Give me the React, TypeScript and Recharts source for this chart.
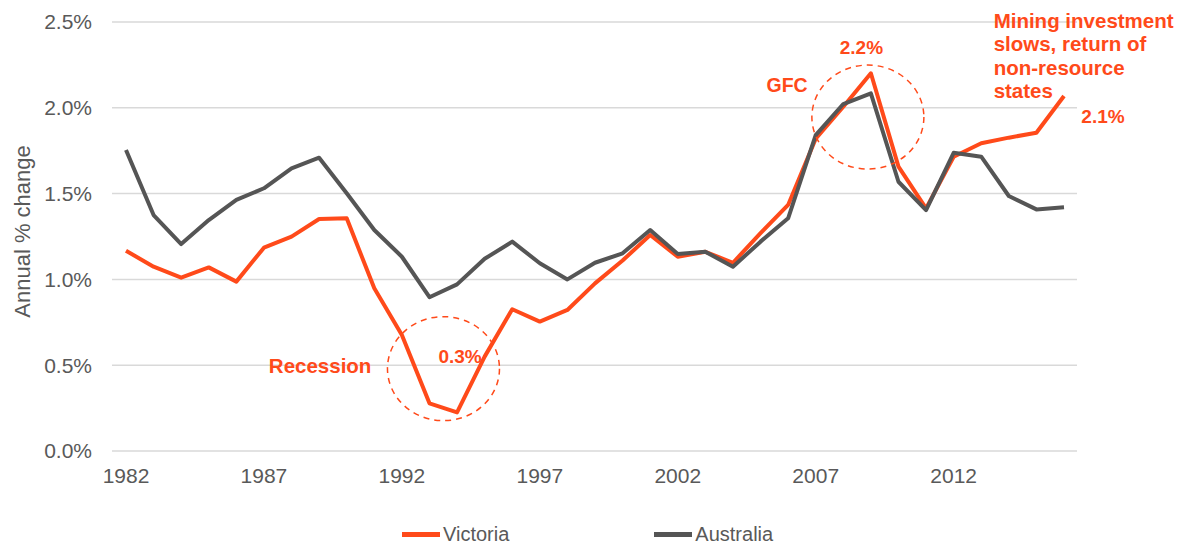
import React from 'react';
import { LineChart, Line, XAxis, YAxis, CartesianGrid, ReferenceDot } from 'recharts';

const years = [1982, 1983, 1984, 1985, 1986, 1987, 1988, 1989, 1990, 1991, 1992, 1993, 1994, 1995, 1996, 1997, 1998, 1999, 2000, 2001, 2002, 2003, 2004, 2005, 2006, 2007, 2008, 2009, 2010, 2011, 2012, 2013, 2014, 2015, 2016];

const victoria = [1.167, 1.074, 1.01, 1.07, 0.987, 1.185, 1.249, 1.352, 1.356, 0.948, 0.676, 0.278, 0.225, 0.55, 0.826, 0.754, 0.822, 0.977, 1.11, 1.259, 1.132, 1.161, 1.097, 1.269, 1.434, 1.82, 2.006, 2.201, 1.657, 1.414, 1.715, 1.793, 1.826, 1.855, 2.069];

const australia = [1.754, 1.375, 1.206, 1.346, 1.463, 1.531, 1.647, 1.709, 1.502, 1.288, 1.132, 0.896, 0.971, 1.12, 1.22, 1.094, 1.0, 1.097, 1.152, 1.288, 1.148, 1.161, 1.074, 1.22, 1.356, 1.841, 2.022, 2.084, 1.569, 1.404, 1.738, 1.715, 1.486, 1.408, 1.42];

const yTicks = [0, 0.5, 1.0, 1.5, 2.0, 2.5];

const miningLines = ['Mining investment', 'slows, return of', 'non-resource', 'states'];

const data = years.map((y, i) => ({ year: y, Victoria: victoria[i], Australia: australia[i] }));

const ORANGE = '#FF4A1A';
const GREY = '#555555';
const TICK = '#595959';
const FONT = '"Liberation Sans", Arial, sans-serif';

const seriesList = [
  { key: 'Victoria', color: ORANGE },
  { key: 'Australia', color: GREY },
];

const textShape = (lines: string[], dx: number, dy: number, anchor: 'start' | 'middle' | 'end', size = 20, lh = 23.5) =>
  (props: any) => (
    <g>
      {lines.map((t, i) => (
        <text
          key={i}
          x={props.cx + dx}
          y={props.cy + dy + i * lh}
          textAnchor={anchor}
          dominantBaseline="central"
          fill={ORANGE}
          fontFamily={FONT}
          fontWeight="bold"
          fontSize={size}
        >
          {t}
        </text>
      ))}
    </g>
  );

const ellipseShape = (dx: number, rx: number, ry: number) => (props: any) => (
  <ellipse
    cx={props.cx + dx}
    cy={props.cy}
    rx={rx}
    ry={ry}
    fill="none"
    stroke={ORANGE}
    strokeWidth={1.5}
    strokeDasharray="6 5"
  />
);

export default function App() {
  return (
    <div style={{ position: 'absolute', left: 0, top: 0, width: 1193, height: 545, background: '#fff', overflow: 'hidden' }}>
      <LineChart
        width={1193}
        height={545}
        data={data}
        margin={{ top: 22, right: 116, bottom: 64, left: 0 }}
      >
        <CartesianGrid vertical={false} stroke="#D9D9D9" strokeWidth={1.5} />
        <XAxis
          dataKey="year"
          type="category"
          height={30}
          interval={4}
          axisLine={false}
          tickLine={false}
          tickSize={6}
          tickMargin={11}
          padding={{ left: 14, right: 13 }}
          tick={{ fill: TICK, fontSize: 21, fontFamily: FONT }}
        />
        <YAxis
          width={112}
          domain={[0, 2.5]}
          ticks={yTicks}
          axisLine={false}
          tickLine={false}
          tickSize={6}
          tickMargin={14}
          tickFormatter={(v: number) => v.toFixed(1) + '%'}
          tick={{ fill: TICK, fontSize: 21, fontFamily: FONT }}
          label={{
            value: 'Annual % change',
            angle: -90,
            position: 'insideLeft',
            dx: 17,
            dy: -5,
            style: { fill: TICK, fontSize: 22, fontFamily: FONT, textAnchor: 'middle' },
          }}
        />
        {seriesList.map((s) => (
          <Line
            key={s.key}
            dataKey={s.key}
            stroke={s.color}
            strokeWidth={4}
            dot={false}
            activeDot={false}
            strokeLinejoin="round"
            isAnimationActive={false}
          />
        ))}
        <ReferenceDot x={1993} y={0.48} r={0} shape={ellipseShape(14, 56, 52)} />
        <ReferenceDot x={1989} y={0.5} r={0} shape={textShape(['Recession'], 1, 0, 'middle', 20.5)} />
        <ReferenceDot x={1994} y={0.55} r={0} shape={textShape(['0.3%'], 3, 0, 'middle', 19)} />
        <ReferenceDot x={2009} y={1.946} r={0} shape={ellipseShape(-3, 56, 52)} />
        <ReferenceDot x={2006} y={2.133} r={0} shape={textShape(['GFC'], -1, 0, 'middle', 19.5)} />
        <ReferenceDot x={2009} y={2.35} r={0} shape={textShape(['2.2%'], -9.5, 0, 'middle', 19)} />
        <ReferenceDot x={2013} y={2.5} r={0} shape={textShape(miningLines, 12.4, -2, 'start', 20.5)} />
        <ReferenceDot x={2016} y={1.95} r={0} shape={textShape(['2.1%'], 39, 0, 'middle', 19)} />
      </LineChart>
      <div
        style={{
          position: 'absolute',
          top: 525,
          left: 402,
          display: 'flex',
          gap: 145,
          fontFamily: FONT,
          fontSize: 20,
          lineHeight: '18px',
          color: TICK,
          whiteSpace: 'nowrap',
        }}
      >
        {seriesList.map((s) => (
          <div key={s.key} style={{ display: 'flex', alignItems: 'center' }}>
            <div style={{ width: 38, height: 5, background: s.color, marginRight: 3 }} />
            <span>{s.key}</span>
          </div>
        ))}
      </div>
    </div>
  );
}
